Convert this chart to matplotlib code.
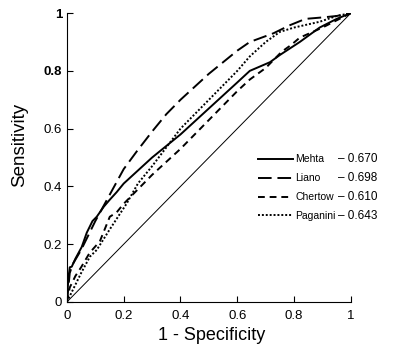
import matplotlib
matplotlib.use("Agg")
import matplotlib.pyplot as plt

plt.rcParams['font.family'] = ['Liberation Sans', 'DejaVu Sans']

# ROC curves (1 - specificity, sensitivity)
mehta_x = [0, 0.005, 0.01, 0.017, 0.03, 0.052, 0.07, 0.09, 0.105, 0.13, 0.15, 0.175, 0.2,
           0.25, 0.3, 0.35, 0.4, 0.45, 0.5, 0.55, 0.6, 0.644, 0.715, 0.75, 0.82, 0.89, 0.95, 1]
mehta_y = [0, 0.08, 0.12, 0.122, 0.15, 0.19, 0.24, 0.28, 0.295, 0.33, 0.353, 0.38, 0.41,
           0.455, 0.5, 0.54, 0.58, 0.625, 0.67, 0.715, 0.76, 0.8, 0.83, 0.855, 0.9, 0.95, 0.98, 1]

liano_x = [0, 0.01, 0.02, 0.05, 0.1, 0.15, 0.2, 0.245, 0.3, 0.35, 0.4, 0.45, 0.5, 0.55,
           0.6, 0.644, 0.727, 0.785, 0.84, 0.9, 0.95, 1]
liano_y = [0, 0.1, 0.13, 0.18, 0.28, 0.37, 0.46, 0.52, 0.59, 0.65, 0.7, 0.745, 0.79, 0.83,
           0.87, 0.9, 0.93, 0.958, 0.98, 0.985, 0.99, 1]

chertow_x = [0, 0.01, 0.03, 0.05, 0.08, 0.116, 0.151, 0.175, 0.2, 0.25, 0.3, 0.35, 0.4,
             0.45, 0.5, 0.55, 0.6, 0.644, 0.7, 0.756, 0.79, 0.82, 0.9, 0.95, 1]
chertow_y = [0, 0.05, 0.09, 0.12, 0.17, 0.21, 0.295, 0.31, 0.34, 0.39, 0.44, 0.485, 0.53,
             0.58, 0.63, 0.68, 0.73, 0.77, 0.81, 0.866, 0.89, 0.915, 0.95, 0.975, 1]

paganini_x = [0, 0.02, 0.05, 0.081, 0.105, 0.15, 0.21, 0.25, 0.3, 0.35, 0.4, 0.45, 0.5,
              0.55, 0.6, 0.644, 0.7, 0.75, 0.8, 0.89, 0.95, 1]
paganini_y = [0, 0.04, 0.1, 0.157, 0.18, 0.25, 0.34, 0.41, 0.47, 0.535, 0.6, 0.65, 0.7,
              0.75, 0.8, 0.85, 0.9, 0.935, 0.95, 0.97, 0.99, 1]

names = ["Mehta", "Liano", "Chertow", "Paganini"]
aucs = ["\u2013 0.670", "\u2013 0.698", "\u2013 0.610", "\u2013 0.643"]
ticks = [0, 0.2, 0.4, 0.6, 0.8, 1]
tick_labels = ["0", "0.2", "0.4", "0.6", "0.8", "1"]

fig = plt.figure(figsize=(4.08, 3.54), dpi=100)
ax = fig.add_axes([0.164, 0.147, 0.696, 0.816])

ax.plot([0, 1], [0, 1], color='black', lw=0.7)
ax.plot(mehta_x, mehta_y, color='black', lw=1.4, ls='-', label=names[0])
ax.plot(liano_x, liano_y, color='black', lw=1.4, ls=(0, (7, 3)), label=names[1])
ax.plot(chertow_x, chertow_y, color='black', lw=1.4, ls=(0, (3.5, 2.5)), label=names[2])
ax.plot(paganini_x, paganini_y, color='black', lw=1.4, ls=(0, (1, 1)), label=names[3])

ax.set_xlim(0, 1)
ax.set_ylim(0, 1)
ax.set_xticks(ticks)
ax.set_xticklabels(tick_labels)
ax.set_yticks(ticks)
ax.set_yticklabels(tick_labels)
for lab in ax.get_yticklabels()[-2:]:
    lab.set_fontweight('bold')
ax.tick_params(direction='in', length=4, width=0.8, labelsize=9.5)
ax.tick_params(axis='x', pad=6)
ax.tick_params(axis='y', pad=3.5)
ax.spines['top'].set_visible(False)
ax.spines['right'].set_visible(False)
ax.set_xlabel("1 - Specificity", fontsize=13)
ax.xaxis.set_label_coords(0.51, -0.085)
ax.set_ylabel("Sensitivity", fontsize=13.5)
ax.yaxis.set_label_coords(-0.135, 0.543)

leg = ax.legend(loc='upper left', bbox_to_anchor=(0.66, 0.525), frameon=False,
                fontsize=7.5, handlelength=3.3, handletextpad=0.25, labelspacing=0.85,
                borderaxespad=0)

fig.canvas.draw()
for t, a in zip(leg.get_texts(), aucs):
    bb = t.get_window_extent().transformed(ax.transAxes.inverted())
    ax.text(0.955, (bb.y0 + bb.y1) / 2, a, fontsize=8.5, va='center', ha='left',
            transform=ax.transAxes, clip_on=False)

plt.savefig("out.png", dpi=100)
